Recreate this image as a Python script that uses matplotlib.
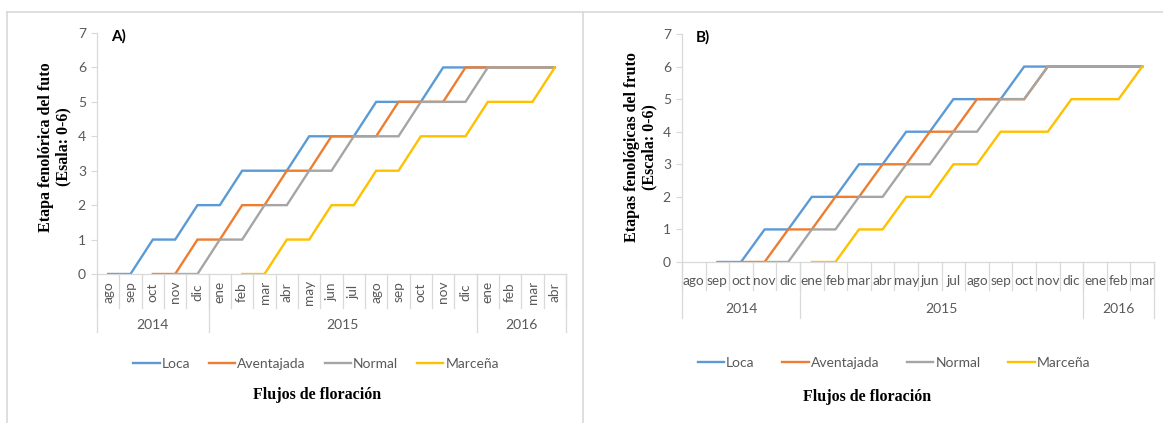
import numpy as np
import matplotlib
matplotlib.use("Agg")
import matplotlib.pyplot as plt
from matplotlib.lines import Line2D
from matplotlib import transforms

plt.rcParams['font.family'] = ['Lato', 'DejaVu Sans']

# ---- data -------------------------------------------------------------
series_names = ["Loca", "Aventajada", "Normal", "Marceña"]
series_colors = ["#5B9BD5", "#ED7D31", "#A5A5A5", "#FFC000"]

# Panel A: Aug 2014 - Apr 2016
months_a = ["ago", "sep", "oct", "nov", "dic",
            "ene", "feb", "mar", "abr", "may", "jun", "jul",
            "ago", "sep", "oct", "nov", "dic",
            "ene", "feb", "mar", "abr"]
years_a = [("2014", 5), ("2015", 12), ("2016", 4)]
loca_a = [0, 0, 1, 1, 2, 2, 3, 3, 3, 4, 4, 4, 5, 5, 5, 6, 6, 6, 6, 6, 6]
aventajada_a = [None, None, 0, 0, 1, 1, 2, 2, 3, 3, 4, 4, 4, 5, 5, 5, 6, 6, 6, 6, 6]
normal_a = [None, None, None, 0, 0, 1, 1, 2, 2, 3, 3, 4, 4, 4, 5, 5, 5, 6, 6, 6, 6]
marcena_a = [None, None, None, None, None, None, 0, 0, 1, 1, 2, 2, 3, 3, 4, 4, 4, 5, 5, 5, 6]

# Panel B: Aug 2014 - Mar 2016
months_b = ["ago", "sep", "oct", "nov", "dic",
            "ene", "feb", "mar", "abr", "may", "jun", "jul",
            "ago", "sep", "oct", "nov", "dic",
            "ene", "feb", "mar"]
years_b = [("2014", 5), ("2015", 12), ("2016", 3)]
loca_b = [None, 0, 0, 1, 1, 2, 2, 3, 3, 4, 4, 5, 5, 5, 6, 6, 6, 6, 6, 6]
aventajada_b = [None, None, 0, 0, 1, 1, 2, 2, 3, 3, 4, 4, 5, 5, 5, 6, 6, 6, 6, 6]
normal_b = [None, None, None, 0, 0, 1, 1, 2, 2, 3, 3, 4, 4, 5, 5, 6, 6, 6, 6, 6]
marcena_b = [None, None, None, None, None, 0, 0, 1, 1, 2, 2, 3, 3, 4, 4, 4, 5, 5, 5, 6]

ylabel_a = "Etapa fenolórica del futo\n(Esala: 0-6)"
ylabel_b = "Etapas fenológicas del fruto\n(Escala: 0-6)"
xlabel = "Flujos de floración"

GRID = "#D9D9D9"
TXT = "#595959"
W, H = 1163, 423

fig = plt.figure(figsize=(W / 100, H / 100), dpi=100)


def px_axes(left, right, top, bottom):
    return fig.add_axes([left / W, 1 - bottom / H, (right - left) / W, (bottom - top) / H])


def draw_panel(ax, months, years, values, tag, ylabel, rot_months,
               month_row, year_row, month_y, year_y, ylabel_x, legend_xy,
               legend_gap, xlabel_xy):
    x = np.arange(len(months))
    for name, col, vals in zip(series_names, series_colors, values):
        y = np.array([np.nan if v is None else v for v in vals], dtype=float)
        ax.plot(x, y, color=col, lw=1.7, label=name, solid_joinstyle="miter")

    ax.set_xlim(-0.5, len(months) - 0.5)
    ax.set_ylim(0, 7)
    ax.set_yticks(range(8))
    ax.tick_params(axis="y", length=4, width=0.8, color=GRID, labelcolor=TXT,
                   labelsize=10, pad=4)
    ax.set_xticks([])
    for s in ["top", "right"]:
        ax.spines[s].set_visible(False)
    for s in ["left", "bottom"]:
        ax.spines[s].set_color(GRID)
        ax.spines[s].set_linewidth(0.9)

    tr = transforms.blended_transform_factory(ax.transData, ax.transAxes)
    # month cells
    for b in np.arange(len(months) + 1) - 0.5:
        ax.plot([b, b], [0, month_row], color=GRID, lw=0.9, transform=tr, clip_on=False)
    for i, m in enumerate(months):
        ax.text(i, month_y, m, transform=tr, ha="center", va="center",
                rotation=90 if rot_months else 0, fontsize=9.8, color=TXT)
    # year cells
    start = 0
    ax.plot([-0.5, -0.5], [0, year_row], color=GRID, lw=0.9, transform=tr, clip_on=False)
    for yr, n in years:
        end = start + n
        ax.plot([end - 0.5, end - 0.5], [0, year_row], color=GRID, lw=0.9,
                transform=tr, clip_on=False)
        ax.text((start + end - 1) / 2, year_y, yr, transform=tr, ha="center",
                va="center", fontsize=10, color=TXT)
        start = end

    ax.text(0.03, 0.985, tag, transform=ax.transAxes, ha="left", va="center",
            fontsize=11, fontweight="bold", color="black")

    fig.text(ylabel_x / W, 1 - 147 / H, ylabel, rotation=90, ha="center", va="center",
             family="Liberation Serif", fontweight="bold", fontsize=11.5,
             linespacing=1.1, color="black")

    fig.legend(*ax.get_legend_handles_labels(), loc="center",
               bbox_to_anchor=(legend_xy[0] / W, 1 - legend_xy[1] / H),
               ncol=4, frameon=False, fontsize=10, handlelength=1.9,
               handletextpad=0.15, columnspacing=legend_gap, labelcolor=TXT)

    fig.text(xlabel_xy[0] / W, 1 - xlabel_xy[1] / H, xlabel, ha="center", va="center",
             family="Liberation Serif", fontweight="bold", fontsize=11.5, color="black")


ax_a = px_axes(97, 566, 33, 274)
draw_panel(ax_a, months_a, years_a, [loca_a, aventajada_a, normal_a, marcena_a],
           "A)", ylabel_a, True,
           month_row=(274 - 308) / 241, year_row=(274 - 332) / 241,
           month_y=(274 - 292) / 241, year_y=(274 - 325) / 241,
           ylabel_x=55, legend_xy=(316, 364), legend_gap=1.35, xlabel_xy=(317, 395))

ax_b = px_axes(682, 1154, 34, 262)
draw_panel(ax_b, months_b, years_b, [loca_b, aventajada_b, normal_b, marcena_b],
           "B)", ylabel_b, False,
           month_row=(262 - 290) / 228, year_row=(262 - 318) / 228,
           month_y=(262 - 281) / 228, year_y=(262 - 309) / 228,
           ylabel_x=641, legend_xy=(894, 363), legend_gap=2.0, xlabel_xy=(867, 397))

# outer frames of the two chart areas
frame_kw = dict(color=GRID, lw=1.2, transform=fig.transFigure)
fig.add_artist(Line2D([7 / W, 1], [1 - 12 / H, 1 - 12 / H], **frame_kw))
fig.add_artist(Line2D([7 / W, 7 / W], [0, 1 - 12 / H], **frame_kw))
fig.add_artist(Line2D([583 / W, 583 / W], [0, 1 - 12 / H], **frame_kw))

fig.savefig("out.png", dpi=100, facecolor="white")
